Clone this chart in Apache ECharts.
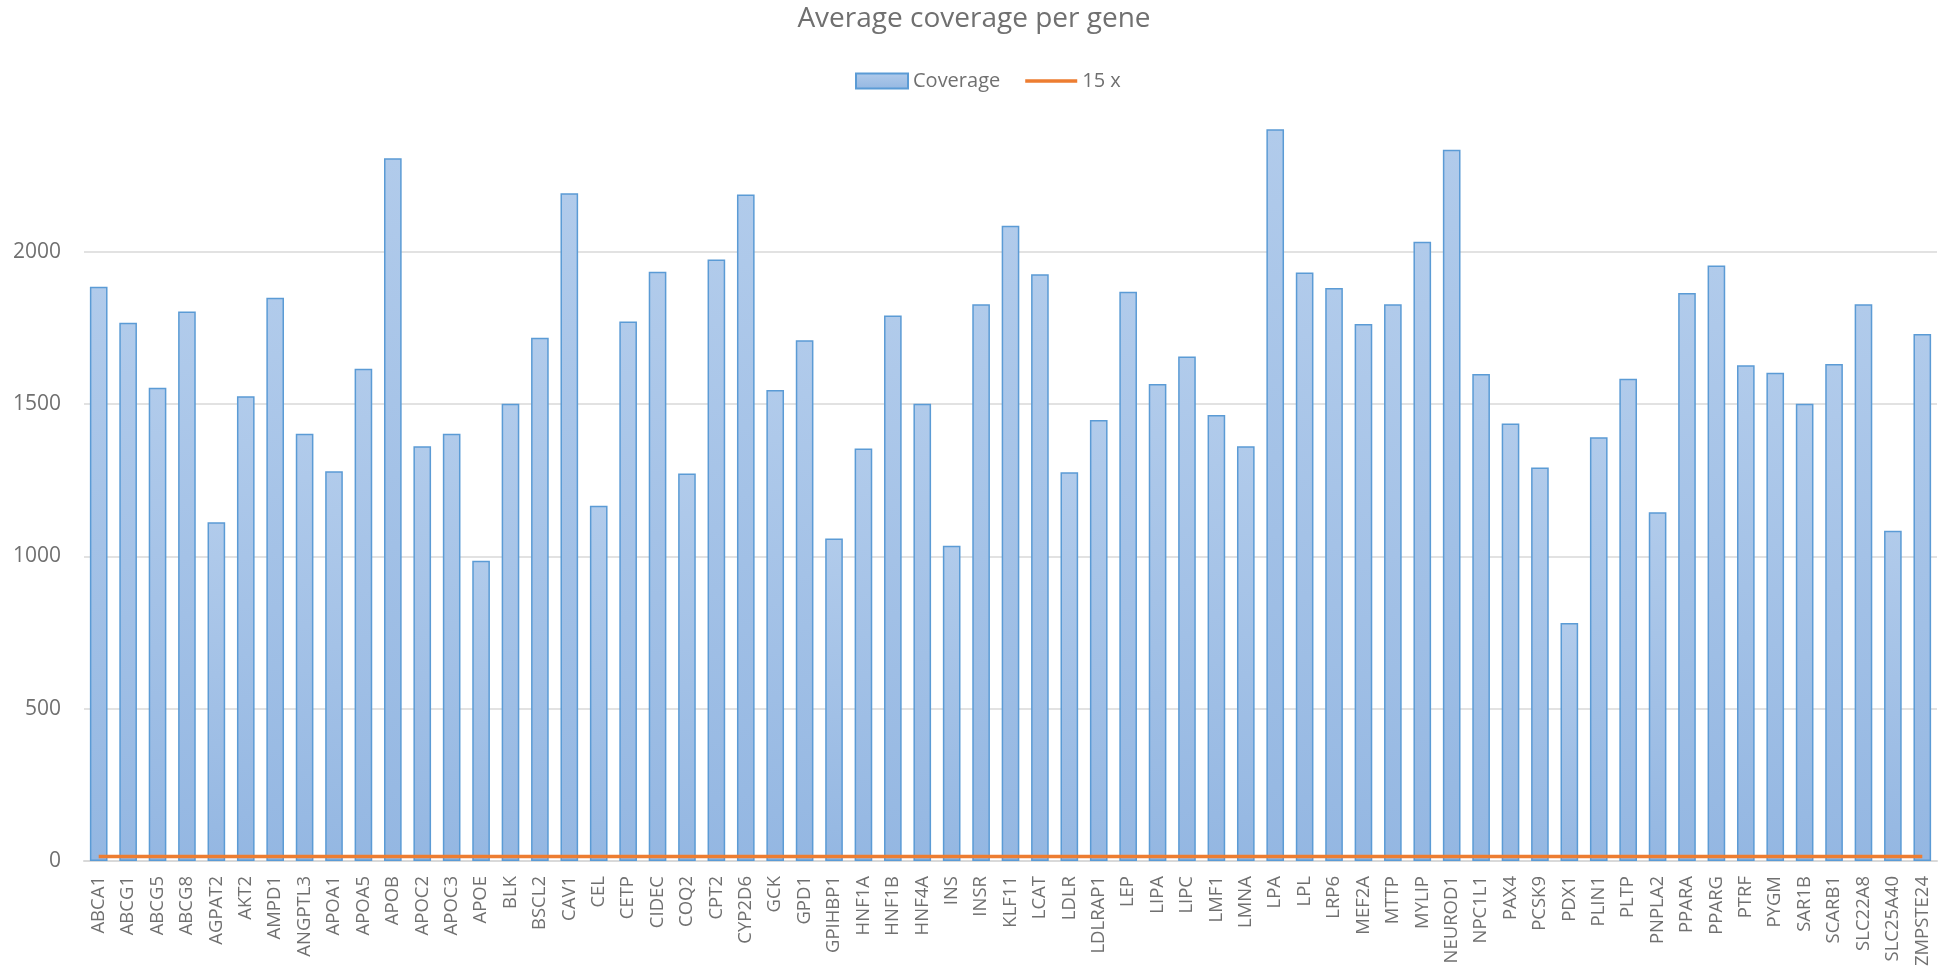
<!DOCTYPE html>
<html>
<head>
<meta charset="utf-8">
<script src="https://cdn.jsdelivr.net/npm/echarts@6/dist/echarts.min.js"></script>
<style>
html,body{margin:0;padding:0;background:#fff;}
#chart{width:1948px;height:971px;}
</style>
</head>
<body>
<div id="chart"></div>
<script>
const titleText = 'Average coverage per gene';
const genes = ['ABCA1','ABCG1','ABCG5','ABCG8','AGPAT2','AKT2','AMPD1','ANGPTL3','APOA1','APOA5','APOB','APOC2','APOC3','APOE','BLK','BSCL2','CAV1','CEL','CETP','CIDEC','COQ2','CPT2','CYP2D6','GCK','GPD1','GPIHBP1','HNF1A','HNF1B','HNF4A','INS','INSR','KLF11','LCAT','LDLR','LDLRAP1','LEP','LIPA','LIPC','LMF1','LMNA','LPA','LPL','LRP6','MEF2A','MTTP','MYLIP','NEUROD1','NPC1L1','PAX4','PCSK9','PDX1','PLIN1','PLTP','PNPLA2','PPARA','PPARG','PTRF','PYGM','SAR1B','SCARB1','SLC22A8','SLC25A40','ZMPSTE24'];
const coverage = [1885,1767,1554,1804,1112,1526,1849,1403,1280,1616,2307,1362,1403,986,1501,1718,2192,1166,1771,1935,1272,1975,2188,1546,1710,1059,1354,1791,1501,1035,1828,2086,1926,1276,1448,1869,1566,1656,1464,1362,2450,1932,1881,1763,1828,2033,2335,1599,1436,1292,781,1391,1583,1145,1865,1955,1628,1603,1501,1632,1828,1084,1730];
const thresholdValue = 15;
const threshold = genes.map(() => thresholdValue);
const yMin = 0, yMax = 2400, yStep = 500;

const chart = echarts.init(document.getElementById('chart'));
const font = '"Open Sans"';
const textColor = '#707070';
chart.setOption({
  animation: false,
  backgroundColor: '#ffffff',
  title: {
    text: titleText, left: 'center', top: 0,
    textStyle: {fontFamily: font, fontSize: 28, fontWeight: 'normal', color: textColor}
  },
  legend: {
    left: 850, top: 66, itemWidth: 52, itemHeight: 15, itemGap: 25,
    textStyle: {fontFamily: font, fontSize: 20, color: textColor},
    data: [
      {name: 'Coverage', icon: 'rect'},
      {name: '15 x', icon: 'path://M0,0H52V3.5H0Z'}
    ]
  },
  grid: {left: 84, right: 11, top: 130, bottom: 110, containLabel: false},
  xAxis: {
    type: 'category', data: genes, boundaryGap: true,
    axisLine: {show: true, lineStyle: {color: '#d9d9d9', width: 2}},
    axisTick: {show: false},
    axisLabel: {rotate: 90, interval: 0, margin: 15, fontFamily: font, fontSize: 18.5, color: textColor}
  },
  yAxis: {
    type: 'value', min: yMin, max: yMax, interval: yStep,
    axisLine: {show: false}, axisTick: {show: false},
    axisLabel: {margin: 23, fontFamily: font, fontSize: 21, color: textColor, showMaxLabel: false,
      formatter: v => String(v)},
    splitLine: {show: true, showMaxLine: false, lineStyle: {color: '#d9d9d9', width: 1.5}}
  },
  series: [
    {
      name: 'Coverage', type: 'bar', data: coverage, barWidth: '60%', clip: true,
      itemStyle: {
        color: new echarts.graphic.LinearGradient(0, 0, 0, 1, [
          {offset: 0, color: '#b1cbeb'}, {offset: 1, color: '#94b7e2'}
        ]),
        borderColor: '#5b9bd5', borderWidth: 1.5
      }
    },
    {
      name: '15 x', type: 'line', data: threshold, symbol: 'none',
      lineStyle: {color: '#ed7d31', width: 3.5},
      itemStyle: {color: '#ed7d31'}, z: 5
    }
  ]
});
</script>
</body>
</html>
